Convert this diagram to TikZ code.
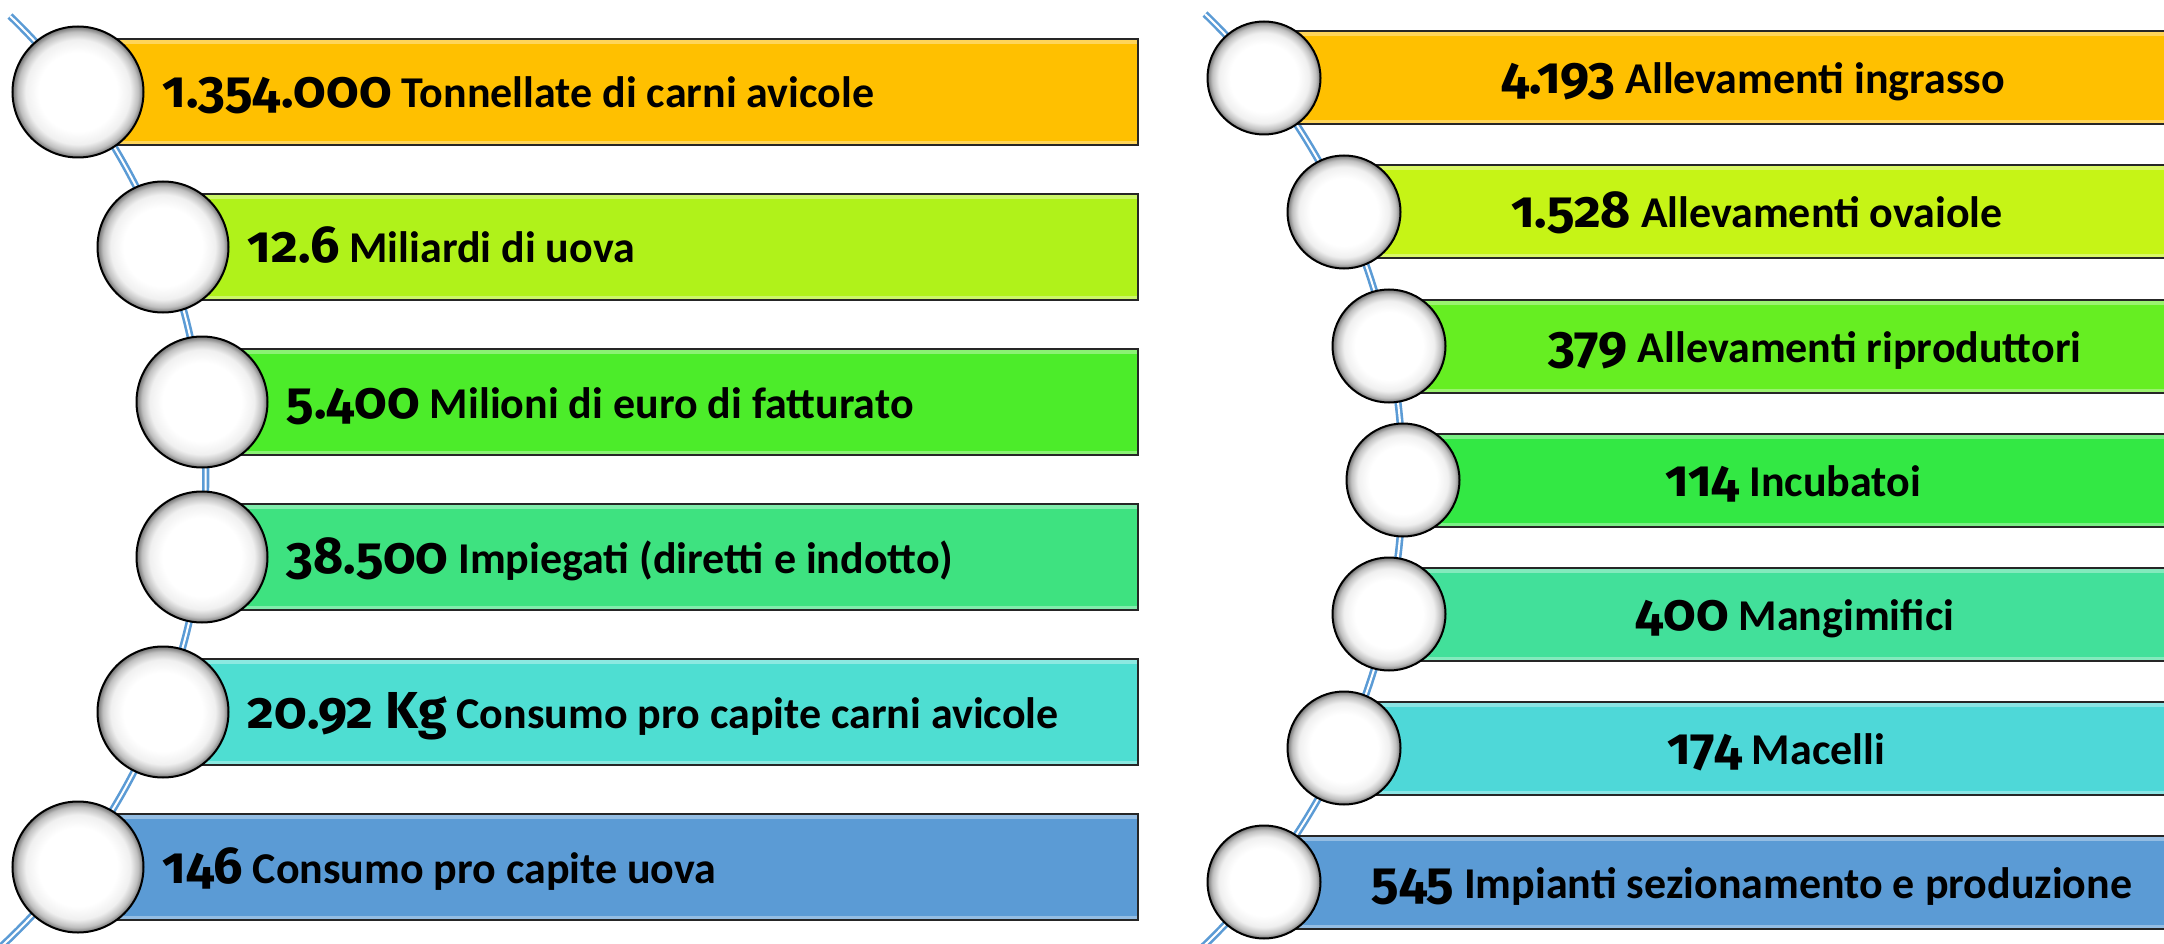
\documentclass[tikz,border=0pt]{standalone}
\usepackage{fontspec}
\setmainfont{Carlito}
\newfontfamily\numfont{Fira Sans}[Numbers={OldStyle,Proportional}]
\usepackage{tikz}
\usetikzlibrary{positioning}
\definecolor{orng}{RGB}{255,192,0}
\definecolor{ltwo}{RGB}{176,242,26}
\definecolor{lthree}{RGB}{76,236,42}
\definecolor{lfour}{RGB}{62,226,128}
\definecolor{lfive}{RGB}{78,222,210}
\definecolor{rtwo}{RGB}{198,244,22}
\definecolor{rthree}{RGB}{102,238,34}
\definecolor{rfour}{RGB}{51,232,68}
\definecolor{rfive}{RGB}{66,224,154}
\definecolor{rsix}{RGB}{78,216,216}
\definecolor{blu}{RGB}{91,155,213}
\pgfdeclareradialshading{glass}{\pgfpoint{0bp}{0bp}}{color(0bp)=(white); color(15bp)=(white); color(20bp)=(black!6); color(23bp)=(black!25); color(25bp)=(black!55); color(50bp)=(black!55)}
\newcommand{\bignum}[1]{{\numfont\fontsize{52}{60}\selectfont #1}}
\tikzstyle{bead}=[circle, draw=black, line width=2pt, shading=glass, inner sep=0pt]
\tikzstyle{bar}=[rectangle, draw=black!85, line width=2pt, inner sep=0pt,
  path picture={\fill[white, opacity=0.35] (path picture bounding box.north west) rectangle ([yshift=-5pt]path picture bounding box.north east);
  \fill[white, opacity=0.35] (path picture bounding box.south west) rectangle ([yshift=4pt]path picture bounding box.south east);}]
\tikzstyle{lbar}=[bar, minimum height=106pt]
\tikzstyle{rbar}=[bar, minimum height=93pt]
\tikzstyle{lbl}=[font=\bfseries\fontsize{44}{50}\selectfont, inner sep=0pt]
\tikzstyle{track}=[draw=blu, double=white, line width=2.6pt, double distance=2pt]

\begin{document}
\begin{tikzpicture}[x=1pt, y=-1pt]
\useasboundingbox (0,0) rectangle (2164,944);
\clip (0,0) rectangle (2164,944);
% spines
\coordinate (ltop) at (10,16);
\coordinate (rtop) at (1205,14);
\draw[track] (ltop) arc[start angle=-46, end angle=47, radius=641];
\draw[track] (rtop) arc[start angle=-46, end angle=47, radius=647];
% left bars
\node[lbar, fill=orng, minimum width=1060pt] (a1) at (608,92) {};
\node[lbar, fill=ltwo, minimum width=975pt] (a2) at (650.5,247) {};
\node[lbar, fill=lthree, minimum width=936pt] (a3) at (670,402) {};
\node[lbar, fill=lfour, minimum width=936pt] (a4) at (670,557) {};
\node[lbar, fill=lfive, minimum width=975pt] (a5) at (650.5,712) {};
\node[lbar, fill=blu, minimum width=1060pt] (a6) at (608,867) {};
% right bars
\node[rbar, fill=orng, minimum width=936pt] (b1) at (1732,78) {};
\node[rbar, fill=rtwo, minimum width=856pt] (b2) at (1772,212) {};
\node[rbar, fill=rthree, minimum width=811pt] (b3) at (1794.5,346) {};
\node[rbar, fill=rfour, minimum width=797pt] (b4) at (1801.5,480) {};
\node[rbar, fill=rfive, minimum width=811pt] (b5) at (1794.5,614) {};
\node[rbar, fill=rsix, minimum width=856pt] (b6) at (1772,748) {};
\node[rbar, fill=blu, minimum width=936pt] (b7) at (1732,882) {};
% beads
\node[bead, minimum size=131pt] (c1) at (78,92) {};
\node[bead, minimum size=131pt] (c2) at (163,247) {};
\node[bead, minimum size=131pt] (c3) at (202,402) {};
\node[bead, minimum size=131pt] (c4) at (202,557) {};
\node[bead, minimum size=131pt] (c5) at (163,712) {};
\node[bead, minimum size=131pt] (c6) at (78,867) {};
\node[bead, minimum size=113pt] (d1) at (1264,78) {};
\node[bead, minimum size=113pt] (d2) at (1344,212) {};
\node[bead, minimum size=113pt] (d3) at (1389,346) {};
\node[bead, minimum size=113pt] (d4) at (1403,480) {};
\node[bead, minimum size=113pt] (d5) at (1389,614) {};
\node[bead, minimum size=113pt] (d6) at (1344,748) {};
\node[bead, minimum size=113pt] (d7) at (1264,882) {};
% left texts
\node[lbl, right=18pt of c1, anchor=base west, yshift=-16pt] (t1) {\bignum{1.354.000} Tonnellate di carni avicole};
\node[lbl, right=18pt of c2, anchor=base west, yshift=-16pt] (t2) {\bignum{12.6} Miliardi di uova};
\node[lbl, right=18pt of c3, anchor=base west, yshift=-16pt] (t3) {\bignum{5.400} Milioni di euro di fatturato};
\node[lbl, right=18pt of c4, anchor=base west, yshift=-16pt] (t4) {\bignum{38.500} Impiegati (diretti e indotto)};
\node[lbl, right=18pt of c5, anchor=base west, yshift=-16pt] (t5) {\bignum{20.92 Kg} Consumo pro capite carni avicole};
\node[lbl, right=18pt of c6, anchor=base west, yshift=-16pt] (t6) {\bignum{146} Consumo pro capite uova};
% right texts
\node[lbl, anchor=base] (u1) at (1753,94) {\bignum{4.193} Allevamenti ingrasso};
\node[lbl, anchor=base] (u2) at (1757,228) {\bignum{1.528} Allevamenti ovaiole};
\node[lbl, anchor=base] (u3) at (1815,362) {\bignum{379} Allevamenti riproduttori};
\node[lbl, anchor=base] (u4) at (1793,496) {\bignum{114} Incubatoi};
\node[lbl, anchor=base] (u5) at (1795,630) {\bignum{400} Mangimifici};
\node[lbl, anchor=base] (u6) at (1776,764) {\bignum{174} Macelli};
\node[lbl, anchor=base] (u7) at (1752,898) {\bignum{545} Impianti sezionamento e produzione};
\end{tikzpicture}
\end{document}
